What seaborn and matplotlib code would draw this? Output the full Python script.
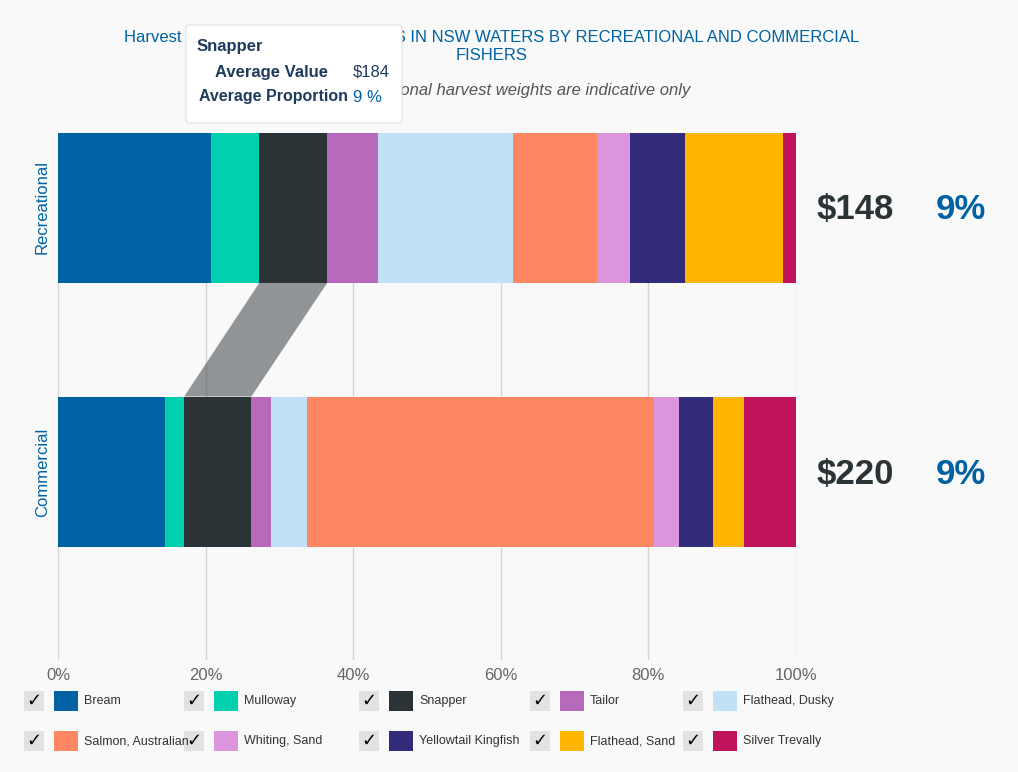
import numpy as np
import pandas as pd
import matplotlib.pyplot as plt
import seaborn as sns
from matplotlib.patches import Rectangle, Polygon, FancyBboxPatch

sns.set_theme(style='white')
plt.rcParams['font.family'] = ['Liberation Sans', 'DejaVu Sans']

species = ['Bream', 'Mulloway', 'Snapper', 'Tailor', 'Flathead, Dusky',
           'Salmon, Australian', 'Whiting, Sand', 'Yellowtail Kingfish',
           'Flathead, Sand', 'Silver Trevally']
colors = ['#0062a3', '#00d0b0', '#2b3336', '#b76ab9', '#c2e0f6',
          '#ff8863', '#dc95dc', '#312b7a', '#ffb600', '#bf135b']
sectors = ['Recreational', 'Commercial']
rec_pct = [20.7, 6.6, 9.2, 6.8, 18.3, 11.4, 4.5, 7.5, 13.3, 1.7]
com_pct = [14.5, 2.6, 9.1, 2.7, 4.9, 46.9, 3.4, 4.6, 4.3, 7.0]
avg_value = ['$148', '$220']
avg_prop = ['9%', '9%']

bg = '#f9f9f9'
fig = plt.figure(figsize=(10.18, 7.72), dpi=100, facecolor=bg)
ax = fig.add_axes([58/1018, 1-660/772, 738/1018, 527/772], facecolor=bg)

# stacked bars: draw cumulative right edges from the last species backwards
cum = pd.DataFrame({'Recreational': np.cumsum(rec_pct), 'Commercial': np.cumsum(com_pct)}, index=species)
cum = cum / cum.iloc[-1] * 100
for sp, col in reversed(list(zip(species, colors))):
    d = pd.DataFrame({'sector': sectors, 'v': cum.loc[sp, sectors].values})
    sns.barplot(data=d, x='v', y='sector', orient='h', color=col, width=0.57,
                saturation=1, ax=ax, linewidth=0)

ax.set_ylim(1.71, -0.28)
ax.set_xlim(0, 100)
for x in range(0, 101, 20):
    ax.axvline(x, color='#d4d4d4', lw=1, zorder=0)
ax.set_xticks(range(0, 101, 20))
ax.set_xticklabels([f'{x}%' for x in range(0, 101, 20)], color='#666666', fontsize=12)
ax.set_yticks([0, 1])
ax.set_yticklabels(sectors, rotation=90, va='center', color='#0062a3', fontsize=12)
ax.tick_params(length=0, pad=6)
ax.set_xlabel('')
ax.set_ylabel('')
for s in ax.spines.values():
    s.set_visible(False)

# Snapper connector (highlighted series)
rl = cum.loc['Mulloway', 'Recreational']
rr = cum.loc['Snapper', 'Recreational']
cl = cum.loc['Mulloway', 'Commercial']
cr = cum.loc['Snapper', 'Commercial']
ax.add_patch(Polygon([(rl, 0.285), (rr, 0.285), (cr, 0.715), (cl, 0.715)],
                     closed=True, color='#2b3336', alpha=0.5, lw=0, zorder=1))

for i in range(2):
    ax.text(102.8, i + 0.01, avg_value[i], fontsize=25, fontweight='bold', color='#2b3336', va='center')
    ax.text(119, i + 0.01, avg_prop[i], fontsize=25, fontweight='bold', color='#0062a3', va='center')

fig.text(0.483, 1-38/772, 'Harvest WEIGHTS OF KEY SPECIES IN NSW WATERS BY RECREATIONAL AND COMMERCIAL',
         ha='center', va='center', color='#0062a3', fontsize=12)
fig.text(0.483, 1-56/772, 'FISHERS', ha='center', va='center', color='#0062a3', fontsize=12)
fig.text(0.483, 1-91/772, 'Note: Recreational harvest weights are indicative only',
         ha='center', va='center', color='#555555', fontsize=12, style='italic')

# tooltip
tip = FancyBboxPatch((186/1018, 1-123/772), 216/1018, 98/772, boxstyle='round,pad=0,rounding_size=0.004',
                     transform=fig.transFigure, facecolor='white', edgecolor='#e0e0e0', lw=0.8, zorder=5)
fig.patches.append(tip)
fig.text(197/1018, 1-46/772, 'Snapper', fontweight='bold', color='#1f3a5f', fontsize=12, va='center', zorder=6)
fig.text(328/1018, 1-72/772, 'Average Value', fontweight='bold', color='#1f3a5f', fontsize=12, va='center', ha='right', zorder=6)
fig.text(353/1018, 1-72/772, '$184', color='#1f3a5f', fontsize=12, va='center', zorder=6)
fig.text(348/1018, 1-97/772, 'Average Proportion', fontweight='bold', color='#1f3a5f', fontsize=11.5, va='center', ha='right', zorder=6)
fig.text(353/1018, 1-97/772, '9 %', color='#0062a3', fontsize=12, va='center', zorder=6)

# legend
xs = [24, 184, 359, 530, 683]
for k, (sp, col) in enumerate(zip(species, colors)):
    x0 = xs[k % 5]
    yc = 701 if k < 5 else 741
    fig.patches.append(Rectangle((x0/1018, 1-(yc+10)/772), 20/1018, 20/772, transform=fig.transFigure,
                                 facecolor='#e2e2e2', lw=0))
    fig.text((x0+10)/1018, 1-yc/772, '✓', ha='center', va='center', fontsize=13,
             fontweight='bold', color='black', family=['DejaVu Sans'])
    fig.patches.append(Rectangle(((x0+30)/1018, 1-(yc+10)/772), 24/1018, 20/772,
                                 transform=fig.transFigure, facecolor=col, lw=0))
    fig.text((x0+60)/1018, 1-yc/772, sp, va='center', fontsize=9, color='#333333')

fig.savefig('out.png', dpi=100, facecolor=bg)
